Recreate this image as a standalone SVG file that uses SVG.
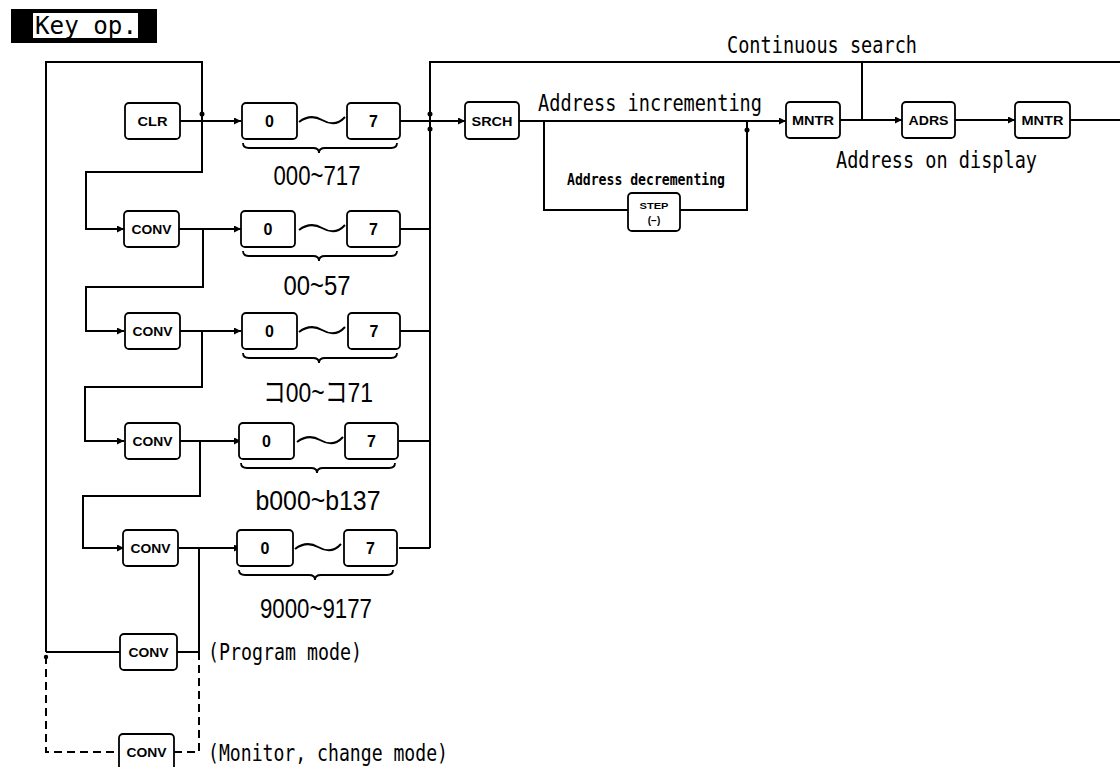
<svg xmlns="http://www.w3.org/2000/svg" width="1120" height="767" viewBox="0 0 1120 767">
<defs>
<style>
.ln{stroke:#000;stroke-width:2;fill:none}
.dash{stroke-dasharray:8 5}
.key{fill:#fff;stroke:#000;stroke-width:1.8}
.kt{font-family:"Liberation Sans",Arial,sans-serif;font-weight:bold;font-size:12.5px;text-anchor:middle}
.dt{font-family:"Liberation Sans",Arial,sans-serif;font-weight:bold;font-size:16px;text-anchor:middle}
.lab{font-family:"Liberation Sans","Noto Sans CJK JP",sans-serif;font-size:27px;text-anchor:middle}
.mono{font-family:"DejaVu Sans Mono",monospace;font-size:23px}
</style>
<marker id="ah" viewBox="0 0 10 10" refX="10" refY="5" markerWidth="9" markerHeight="7" markerUnits="userSpaceOnUse" orient="auto"><path d="M0,0 L10,5 L0,10 z"/></marker>
</defs>
<rect width="1120" height="767" fill="#fff"/>

<g id="title">
<rect x="11" y="9" width="146" height="34" fill="#000"/>
<rect x="33" y="13" width="105" height="25" fill="#fff"/>
<text x="35" y="34" style="font-family:'DejaVu Sans Mono',monospace;font-size:24px" textLength="102" lengthAdjust="spacingAndGlyphs">Key op.</text>
</g>

<g id="connectors">
<path class="ln" d="M46,652 L46,62 L202,62 L202,172 L86,172 L86,229 L124,229" marker-end="url(#ah)"/>
<path class="ln" d="M180,121 L241,121" marker-end="url(#ah)"/>
<path class="ln" d="M179,229 L241,229" marker-end="url(#ah)"/>
<path class="ln" d="M203,229 L203,287 L86,287 L86,331 L124,331" marker-end="url(#ah)"/>
<path class="ln" d="M179,331 L241,331" marker-end="url(#ah)"/>
<path class="ln" d="M202,331 L202,387 L85,387 L85,441 L124,441" marker-end="url(#ah)"/>
<path class="ln" d="M179,441 L241,441" marker-end="url(#ah)"/>
<path class="ln" d="M200,441 L200,496 L83,496 L83,548 L124,548" marker-end="url(#ah)"/>
<path class="ln" d="M179,548 L241,548" marker-end="url(#ah)"/>
<path class="ln" d="M199,548 L199,652 L177,652"/>
<path class="ln" d="M46,652 L120,652"/>
<path class="ln dash" d="M46,656 L46,752 L119,752"/>
<path class="ln dash" d="M174,752 L199,752 L199,652"/>
<circle cx="46" cy="657" r="2.2"/>
<circle cx="202" cy="114" r="2.5"/>
<path class="ln" d="M399,229 L430,229 M399,331 L430,331 M399,441 L430,441 M399,548 L430,548"/>
<path class="ln" d="M430,548 L430,62 L1120,62"/>
<path class="ln" d="M399,121 L465,121" marker-end="url(#ah)"/>
<circle cx="430" cy="114" r="2.5"/>
<circle cx="430" cy="129" r="2.5"/>
<path class="ln" d="M519,121 L786,121" marker-end="url(#ah)"/>
<path class="ln" d="M544,121 L544,210 L628,210 M680,210 L747,210 L747,121"/>
<circle cx="747" cy="130" r="2.5"/>
<path class="ln" d="M840,120 L902,120" marker-end="url(#ah)"/>
<path class="ln" d="M862,62 L862,120"/>
<path class="ln" d="M955,120 L1015,120" marker-end="url(#ah)"/>
<path class="ln" d="M1070,120 L1120,120"/>
</g>

<g id="tildes" class="ln">
<path d="M299,122 C307,116 315,116 322,120 S337,126 345,117"/>
<path d="M299,230 C307,224 315,224 322,228 S337,234 345,225"/>
<path d="M299,332 C307,326 315,326 322,330 S337,336 345,327"/>
<path d="M297,442 C305,436 313,436 320,440 S335,446 343,437"/>
<path d="M295,549 C303,543 311,543 318,547 S333,553 341,544"/>
</g>

<g id="braces" class="ln" style="stroke-width:1.8">
<path d="M243,143 Q243,148 249,148 L313,148 Q319,148 319,153 Q319,148 325,148 L391,148 Q397,148 397,143"/>
<path d="M243,251 Q243,256 249,256 L313,256 Q319,256 319,261 Q319,256 325,256 L391,256 Q397,256 397,251"/>
<path d="M243,353 Q243,358 249,358 L313,358 Q319,358 319,363 Q319,358 325,358 L391,358 Q397,358 397,353"/>
<path d="M241,463 Q241,468 247,468 L311,468 Q317,468 317,473 Q317,468 323,468 L389,468 Q395,468 395,463"/>
<path d="M239,570 Q239,575 245,575 L309,575 Q315,575 315,580 Q315,575 321,575 L387,575 Q393,575 393,570"/>
</g>

<g id="n-clr"><rect class="key" x="125" y="103" width="55" height="36" rx="4"/><text class="kt" x="152.5" y="126" textLength="30" lengthAdjust="spacingAndGlyphs">CLR</text></g>
<g id="n-r1-0"><rect class="key" x="242" y="103" width="55" height="36" rx="4"/><text class="dt" x="269.5" y="127">0</text></g>
<g id="n-r1-7"><rect class="key" x="347" y="103" width="53" height="36" rx="4"/><text class="dt" x="373.5" y="127">7</text></g>

<g id="n-conv2"><rect class="key" x="124" y="211" width="55" height="36" rx="4"/><text class="kt" x="151.5" y="234" textLength="40" lengthAdjust="spacingAndGlyphs">CONV</text></g>
<g id="n-r2-0"><rect class="key" x="241" y="211" width="54" height="36" rx="4"/><text class="dt" x="268" y="235">0</text></g>
<g id="n-r2-7"><rect class="key" x="347" y="211" width="53" height="36" rx="4"/><text class="dt" x="373.5" y="235">7</text></g>

<g id="n-conv3"><rect class="key" x="125" y="313" width="55" height="36" rx="4"/><text class="kt" x="152.5" y="336" textLength="40" lengthAdjust="spacingAndGlyphs">CONV</text></g>
<g id="n-r3-0"><rect class="key" x="242" y="313" width="55" height="36" rx="4"/><text class="dt" x="269.5" y="337">0</text></g>
<g id="n-r3-7"><rect class="key" x="348" y="313" width="52" height="36" rx="4"/><text class="dt" x="374" y="337">7</text></g>

<g id="n-conv4"><rect class="key" x="125" y="423" width="55" height="36" rx="4"/><text class="kt" x="152.5" y="446" textLength="40" lengthAdjust="spacingAndGlyphs">CONV</text></g>
<g id="n-r4-0"><rect class="key" x="239" y="423" width="55" height="36" rx="4"/><text class="dt" x="266.5" y="447">0</text></g>
<g id="n-r4-7"><rect class="key" x="345" y="423" width="53" height="36" rx="4"/><text class="dt" x="371.5" y="447">7</text></g>

<g id="n-conv5"><rect class="key" x="123" y="530" width="55" height="36" rx="4"/><text class="kt" x="150.5" y="553" textLength="40" lengthAdjust="spacingAndGlyphs">CONV</text></g>
<g id="n-r5-0"><rect class="key" x="237" y="530" width="56" height="36" rx="4"/><text class="dt" x="265" y="554">0</text></g>
<g id="n-r5-7"><rect class="key" x="344" y="530" width="53" height="36" rx="4"/><text class="dt" x="370.5" y="554">7</text></g>

<g id="n-conv-prog"><rect class="key" x="120" y="634" width="57" height="36" rx="4"/><text class="kt" x="148.5" y="657" textLength="40" lengthAdjust="spacingAndGlyphs">CONV</text></g>
<g id="n-conv-mon"><rect class="key" x="119" y="734" width="55" height="36" rx="4"/><text class="kt" x="146.5" y="757" textLength="40" lengthAdjust="spacingAndGlyphs">CONV</text></g>

<g id="n-srch"><rect class="key" x="465" y="102" width="54" height="37" rx="4"/><text class="kt" x="492" y="125.5" textLength="41" lengthAdjust="spacingAndGlyphs">SRCH</text></g>
<g id="n-step"><rect class="key" x="628" y="193" width="52" height="38" rx="4"/>
<text class="kt" x="654" y="209" style="font-size:9.5px" textLength="29" lengthAdjust="spacingAndGlyphs">STEP</text>
<text class="kt" x="654" y="224" style="font-size:10px">(−)</text></g>
<g id="n-mntr1"><rect class="key" x="786" y="102" width="54" height="36" rx="4"/><text class="kt" x="813" y="125" textLength="42" lengthAdjust="spacingAndGlyphs">MNTR</text></g>
<g id="n-adrs"><rect class="key" x="902" y="102" width="53" height="36" rx="4"/><text class="kt" x="928.5" y="125" textLength="40" lengthAdjust="spacingAndGlyphs">ADRS</text></g>
<g id="n-mntr2"><rect class="key" x="1015" y="102" width="55" height="36" rx="4"/><text class="kt" x="1042.5" y="125" textLength="42" lengthAdjust="spacingAndGlyphs">MNTR</text></g>

<g id="labels">
<text class="lab" x="317" y="185" textLength="87" lengthAdjust="spacingAndGlyphs">000~717</text>
<text class="lab" x="317" y="295" textLength="67" lengthAdjust="spacingAndGlyphs">00~57</text>
<text class="lab" x="318" y="402" textLength="110" lengthAdjust="spacingAndGlyphs">コ00~コ71</text>
<text class="lab" x="318" y="510" textLength="125" lengthAdjust="spacingAndGlyphs">b000~b137</text>
<text class="lab" x="316" y="618" textLength="112" lengthAdjust="spacingAndGlyphs">9000~9177</text>
<text class="mono" x="727" y="53" textLength="190" lengthAdjust="spacingAndGlyphs">Continuous search</text>
<text class="mono" x="538" y="111" textLength="224" lengthAdjust="spacingAndGlyphs">Address incrementing</text>
<text class="mono" x="567" y="185" style="font-size:15px;font-weight:bold" textLength="158" lengthAdjust="spacingAndGlyphs">Address decrementing</text>
<text class="mono" x="836" y="168" textLength="201" lengthAdjust="spacingAndGlyphs">Address on display</text>
<text class="mono" x="208" y="660" textLength="154" lengthAdjust="spacingAndGlyphs">(Program mode)</text>
<text class="mono" x="208" y="761" textLength="240" lengthAdjust="spacingAndGlyphs">(Monitor, change mode)</text>
</g>
</svg>
